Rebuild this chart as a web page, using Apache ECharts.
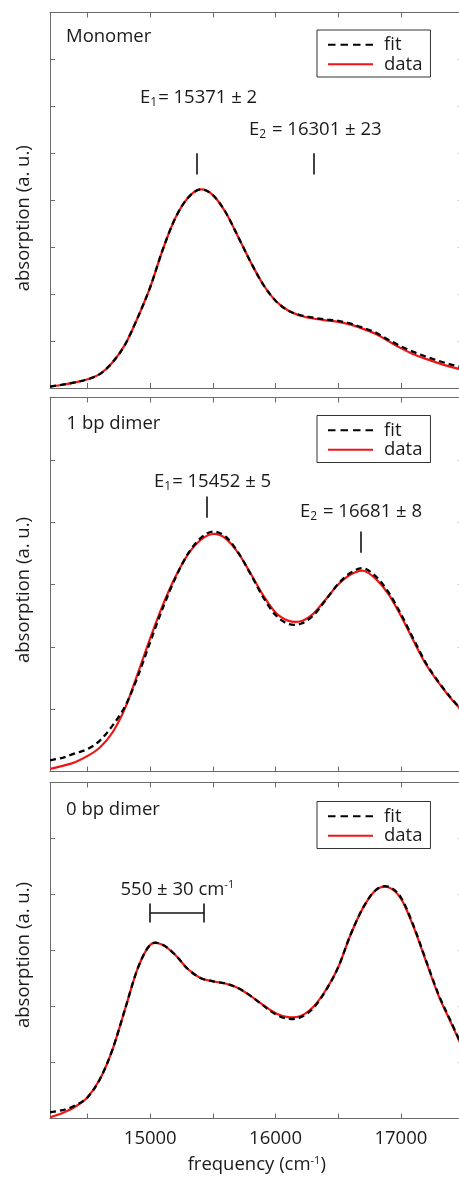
<!DOCTYPE html>
<html><head><meta charset="utf-8">
<script src="https://cdn.jsdelivr.net/npm/echarts@6/dist/echarts.min.js"></script>
<style>html,body{margin:0;padding:0;overflow:hidden;background:#fff}#c{width:470px;height:1177px}</style>
</head><body><div id="c"></div><script>
// ---------------- data ----------------
const panelNames = ['Monomer', '1 bp dimer', '0 bp dimer'];
const xTickValues = [14500, 15000, 15500, 16000, 16500, 17000, 17500];
const xTickLabels = [15000, 16000, 17000];

// frequency grid (cm^-1) shared by all curves
const freq = [14200,14300,14400,14500,14600,14700,14800,14900,15000,15100,15200,15300,15400,15500,15600,15700,15800,15900,16000,16100,16200,16300,16400,16500,16600,16700,16800,16900,17000,17100,17200,17300,17400,17500];

const monoData = [0.03,0.07,0.12,0.185,0.30,0.55,0.93,1.50,2.15,2.95,3.62,4.05,4.23,4.11,3.75,3.23,2.69,2.21,1.86,1.65,1.54,1.48,1.44,1.41,1.35,1.26,1.15,1.00,0.85,0.72,0.62,0.53,0.45,0.38];
const monoFit  = [0.03,0.07,0.12,0.185,0.30,0.55,0.93,1.50,2.15,2.95,3.62,4.05,4.23,4.11,3.75,3.23,2.69,2.21,1.86,1.65,1.55,1.50,1.46,1.43,1.37,1.28,1.18,1.03,0.89,0.77,0.67,0.58,0.50,0.43];

const dim1Data = [0.04,0.09,0.15,0.25,0.39,0.63,1.02,1.57,2.14,2.67,3.12,3.48,3.71,3.81,3.74,3.51,3.18,2.83,2.55,2.42,2.41,2.53,2.76,3.00,3.16,3.22,3.09,2.85,2.50,2.10,1.72,1.43,1.17,0.95];
const dim1Fit  = [0.18,0.22,0.29,0.36,0.50,0.74,1.05,1.52,2.08,2.62,3.10,3.49,3.74,3.85,3.77,3.52,3.17,2.80,2.51,2.37,2.37,2.50,2.75,3.01,3.19,3.26,3.13,2.88,2.53,2.13,1.74,1.44,1.18,0.96];

const dim0Data = [0.02,0.10,0.21,0.38,0.71,1.24,1.96,2.68,3.10,3.10,2.92,2.67,2.51,2.45,2.41,2.33,2.19,2.03,1.88,1.81,1.83,1.99,2.29,2.70,3.29,3.77,4.08,4.13,3.93,3.43,2.81,2.20,1.71,1.22];
const dim0Fit  = [0.11,0.15,0.23,0.38,0.71,1.24,1.96,2.68,3.10,3.10,2.92,2.67,2.51,2.45,2.41,2.33,2.19,2.02,1.86,1.78,1.81,1.97,2.28,2.70,3.29,3.77,4.08,4.14,3.95,3.45,2.83,2.22,1.73,1.24];

// peak markers: [frequency, yFrom, yTo]
const monoMarkers = [[15371, 4.55, 5.0], [16301, 4.55, 5.0]];
const dim1Markers = [[15452, 4.07, 4.41], [16681, 3.51, 3.85]];
// splitting bracket: [from, to, y, capLow, capHigh]
const bracket = [15000, 15430, 3.68, 3.50, 3.84];

// ---------------- layout ----------------
const FONT = '"Open Sans", "Noto Sans", sans-serif';
const AX = '#6b6b6b';
const TXT = '#1a1a1a';
const RED = '#f01414';
const gridTops = [12.5, 397.5, 782.5];
const gridHeights = [375.5, 374, 336];
const yMaxes = [8, 6, 6];
const yNameShift = [36, 11, 9];
const legendTops = [30, 415.5, 801.5];
const DASH_ICON = 'path://M0,0h7.5v2.2h-7.5z M12.5,0h7.5v2.2h-7.5z M25,0h7.5v2.2h-7.5z M37.5,0h7.5v2.2h-7.5z';
const SOLID_ICON = 'path://M0,0h45v2.2h-45z';

const datas = [monoData, dim1Data, dim0Data];
const fits = [monoFit, dim1Fit, dim0Fit];

const zip = (a, b) => a.map((v, i) => [v, b[i]]);

// smooth curve through the data points (Catmull-Rom), positioned via the axes' scales
function curveSeries(name, xs, ys, axisIdx, color, width, dash, z) {
  return {
    type: 'custom', name: name, coordinateSystem: 'cartesian2d',
    xAxisIndex: axisIdx, yAxisIndex: axisIdx, clip: true, silent: true, z: z,
    color: color, itemStyle: {color: color},
    data: zip(xs, ys),
    encode: {x: 0, y: 1},
    renderItem: function (params, api) {
      if (params.dataIndex !== 0) return null;
      const p = xs.map((x, k) => api.coord([x, ys[k]]));
      let d = 'M' + p[0][0] + ',' + p[0][1];
      for (let k = 0; k < p.length - 1; k++) {
        const p0 = p[k - 1] || p[k], p1 = p[k], p2 = p[k + 1], p3 = p[k + 2] || p[k + 1];
        const c1x = p1[0] + (p2[0] - p0[0]) / 6, c1y = p1[1] + (p2[1] - p0[1]) / 6;
        const c2x = p2[0] - (p3[0] - p1[0]) / 6, c2y = p2[1] - (p3[1] - p1[1]) / 6;
        d += ' C' + c1x + ',' + c1y + ',' + c2x + ',' + c2y + ',' + p2[0] + ',' + p2[1];
      }
      return {
        type: 'path', shape: {pathData: d},
        style: {fill: 'none', stroke: color, lineWidth: width, lineDash: dash || null}
      };
    }
  };
}

const grid = [], xAxis = [], yAxis = [], series = [], legend = [];
for (let i = 0; i < 3; i++) {
  grid.push({left: 50, top: gridTops[i], width: 413.5, height: gridHeights[i], containLabel: false});
  const baseX = {
    gridIndex: i, type: 'value', min: 14200, max: 17500,
    axisLine: {show: true, onZero: false, lineStyle: {color: AX, width: 1}},
    axisTick: {show: true, inside: true, length: 5, customValues: xTickValues, lineStyle: {color: AX, width: 1}},
    splitLine: {show: false}
  };
  xAxis.push(Object.assign({}, baseX, {
    position: 'bottom',
    axisLabel: {show: i === 2, customValues: xTickLabels, margin: 11, fontFamily: FONT, fontSize: 18.5, color: TXT,
      formatter: v => String(v)},
    name: i === 2 ? 'frequency (cm{sup|-1})' : '',
    nameLocation: 'middle', nameGap: 37,
    nameTextStyle: {fontFamily: FONT, fontSize: 18.5, color: TXT,
      rich: {sup: {fontFamily: FONT, fontSize: 11, color: TXT, verticalAlign: 'top', lineHeight: 12}}}
  }));
  xAxis.push(Object.assign({}, baseX, {position: 'top', axisLabel: {show: false}}));
  const baseY = {
    gridIndex: i, type: 'value', min: 0, max: yMaxes[i], interval: 1,
    axisLine: {show: true, onZero: false, lineStyle: {color: AX, width: 1}},
    axisTick: {show: true, inside: true, length: 5, lineStyle: {color: AX, width: 1}},
    axisLabel: {show: false}, splitLine: {show: false}
  };
  yAxis.push(Object.assign({}, baseY, {
    position: 'left', name: 'absorption (a. u.)', nameLocation: 'middle', nameGap: 17, nameRotate: 90,
    nameTextStyle: {fontFamily: FONT, fontSize: 18.5, color: TXT, padding: [0, yNameShift[i], 0, 0]}
  }));
  yAxis.push(Object.assign({}, baseY, {position: 'right'}));

  const dataSeries = curveSeries('data', freq, datas[i], 2 * i, RED, 2.2, null, 2);
  const fitSeries = curveSeries('fit', freq, fits[i], 2 * i, '#000', 2.3, [6, 4], 3);

  // marker lines / bracket drawn in data coordinates
  let ml = [];
  const mk = i === 0 ? monoMarkers : (i === 1 ? dim1Markers : []);
  mk.forEach(m => ml.push([{coord: [m[0], m[1]]}, {coord: [m[0], m[2]]}]));
  if (i === 2) {
    ml.push([{coord: [bracket[0], bracket[2]]}, {coord: [bracket[1], bracket[2]]}]);
    ml.push([{coord: [bracket[0], bracket[3]]}, {coord: [bracket[0], bracket[4]]}]);
    ml.push([{coord: [bracket[1], bracket[3]]}, {coord: [bracket[1], bracket[4]]}]);
  }
  const markSeries = {
    type: 'line', name: 'marks' + i, xAxisIndex: 2 * i, yAxisIndex: 2 * i, data: [], silent: true,
    markLine: {silent: true, symbol: 'none', label: {show: false}, animation: false,
      lineStyle: {color: '#111', width: 1.6, type: 'solid'}, data: ml}
  };
  series.push(dataSeries, fitSeries, markSeries);

  legend.push({
    left: 317, top: legendTops[i], orient: 'vertical',
    data: [{name: 'fit', icon: DASH_ICON}, {name: 'data', icon: SOLID_ICON}],
    itemWidth: 45, itemHeight: 2.2, itemGap: 0, padding: [5, 8, 3, 11],
    borderColor: '#333', borderWidth: 1, backgroundColor: '#fff', selectedMode: false,
    textStyle: {fontFamily: FONT, fontSize: 18.5, color: TXT, lineHeight: 19.5, padding: [0, 0, 0, 6]}
  });
}

const rich = {
  n: {fontFamily: FONT, fontSize: 18.5, color: TXT, lineHeight: 22},
  sub: {fontFamily: FONT, fontSize: 12, color: TXT, verticalAlign: 'bottom', lineHeight: 12, padding: [0, 1, 0, 0]},
  sup: {fontFamily: FONT, fontSize: 11, color: TXT, verticalAlign: 'top', lineHeight: 12}
};
const txt = (x, y, text) => ({type: 'text', left: x, top: y, silent: true,
  style: {text: text, rich: rich, fontFamily: FONT, fontSize: 18.5, fill: TXT}});
const plain = (x, y, text) => ({type: 'text', x: x, y: y, silent: true,
  style: {text: text, fontFamily: FONT, fontSize: 18.5, fill: TXT, verticalAlign: 'middle', align: 'left'}});

const graphic = [
  plain(66, 36.5, panelNames[0]),
  plain(66.5, 423.5, panelNames[1]),
  plain(66, 809.5, panelNames[2]),
  txt(140, 88, '{n|E}{sub|1}{n|= 15371 ± 2}'),
  txt(249, 120, '{n|E}{sub|2}{n| = 16301 ± 23}'),
  txt(154, 472, '{n|E}{sub|1}{n|= 15452 ± 5}'),
  txt(300, 502, '{n|E}{sub|2}{n| = 16681 ± 8}'),
  txt(120.5, 879, '{n|550 ± 30 cm}{sup|-1}')
];

const chart = echarts.init(document.getElementById('c'), null, {renderer: 'canvas'});
chart.setOption({animation: false, backgroundColor: '#fff', grid, xAxis, yAxis, series, legend, graphic});
</script></body></html>
